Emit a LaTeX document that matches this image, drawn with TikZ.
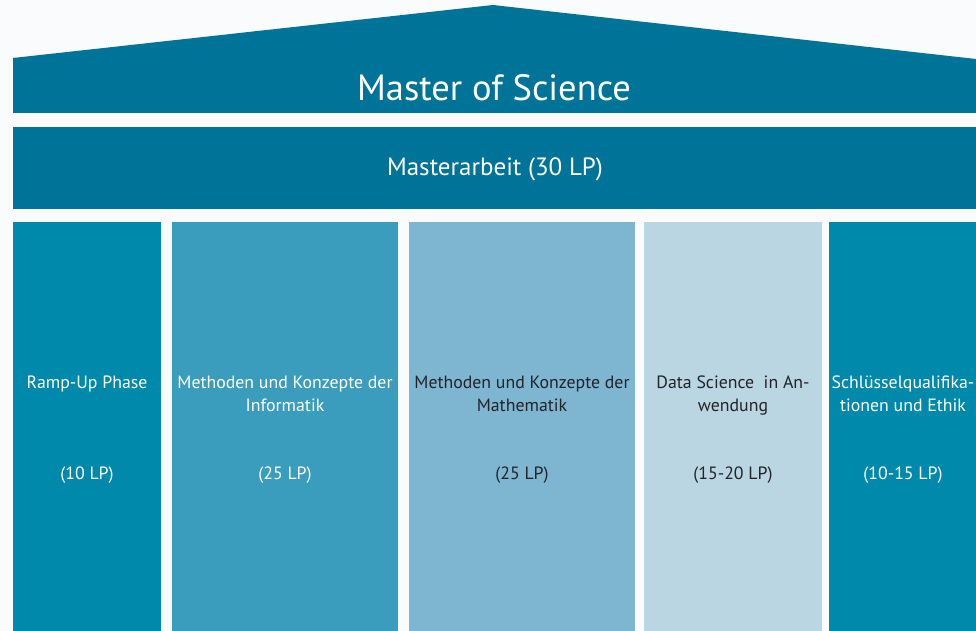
\documentclass[tikz,border=0pt]{standalone}
\usepackage{fontspec}
\setmainfont{PT Sans}
\definecolor{bg}{RGB}{250,251,252}
\definecolor{roofc}{RGB}{0,115,152}
\definecolor{colA}{RGB}{0,137,170}
\definecolor{colB}{RGB}{58,157,189}
\definecolor{colC}{RGB}{126,182,209}
\definecolor{colD}{RGB}{185,214,226}
\definecolor{darktext}{RGB}{35,35,40}
\begin{document}
\begin{tikzpicture}[x=1pt,y=-1pt,
  pillar/.style={anchor=north west, inner sep=0pt, outer sep=0pt},
  coltext/.style={align=center, font=\fontsize{17.8}{23}\selectfont, inner sep=0pt},
  lptext/.style={font=\fontsize{17.8}{20}\selectfont, inner sep=0pt}]
\useasboundingbox[fill=bg] (0,0) rectangle (976,631);
% roof
\coordinate (rl) at (13,113);
\coordinate (re) at (13,58);
\coordinate (apex) at (493,5);
\coordinate (rr) at (976,59);
\coordinate (rb) at (976,113);
\fill[roofc] (rl) -- (re) -- (apex) -- (rr) -- (rb) -- cycle;
\node[text=white, font=\fontsize{36.5}{40}\selectfont, inner sep=0pt] (title) at (494,88) {Master of Science};
% Masterarbeit band
\node[pillar, fill=roofc, minimum width=963, minimum height=82] (band) at (13,127) {};
\node[text=white, font=\fontsize{25}{28}\selectfont, inner sep=0pt] (bandtext) at (495,169) {Masterarbeit (30 LP)};
% pillars
\node[pillar, fill=colA, minimum width=148, minimum height=410] (p1) at (13,222) {};
\node[pillar, fill=colB, minimum width=226, minimum height=410] (p2) at (172,222) {};
\node[pillar, fill=colC, minimum width=226, minimum height=410] (p3) at (409,222) {};
\node[pillar, fill=colD, minimum width=178, minimum height=410] (p4) at (644,222) {};
\node[pillar, fill=colA, minimum width=147, minimum height=410] (p5) at (829,222) {};
% pillar texts
\node[coltext, text=white, anchor=north] (t1) at (87,376) {Ramp-Up Phase};
\node[coltext, text=white, anchor=north] (t2) at (285,376) {Methoden und Konzepte der\\Informatik};
\node[coltext, text=darktext, anchor=north] (t3) at (522,376) {Methoden und Konzepte der\\Mathematik};
\node[coltext, text=darktext, anchor=north] (t4) at (733,376) {Data Science \ in An-\\wendung};
\node[coltext, text=white, anchor=north] (t5) at (903,376) {Schlüsselqualifika-\\tionen und Ethik};
\node[lptext, text=white] (l1) at (87,475) {(10 LP)};
\node[lptext, text=white] (l2) at (285,475) {(25 LP)};
\node[lptext, text=darktext] (l3) at (522,475) {(25 LP)};
\node[lptext, text=darktext] (l4) at (733,475) {(15-20 LP)};
\node[lptext, text=white] (l5) at (903,475) {(10-15 LP)};
\end{tikzpicture}
\end{document}
